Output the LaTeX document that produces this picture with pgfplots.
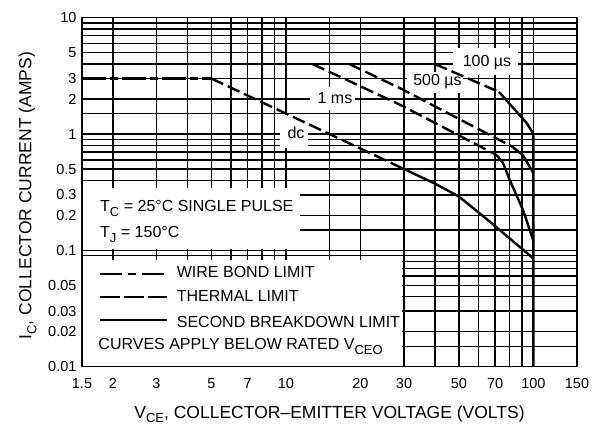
\documentclass[border=0pt]{standalone}
\usepackage{fontspec}
\setmainfont{Liberation Sans}
\usepackage{pgfplots}
\pgfplotsset{compat=1.18}
\pgfdeclarelayer{boxes}
\pgfplotsset{layers/mylayers/.define layer set={axis background,axis grid,boxes,axis ticks,axis lines,axis tick labels,pre main,main,axis descriptions,axis foreground}{}}
\newcommand\sub[1]{\raisebox{-0.28em}{\fontsize{13}{13}\selectfont #1}}
\newcommand\fnt{\fontsize{16}{18}\selectfont}
\tikzset{lbl/.style={font=\fnt, inner sep=0pt}}
\begin{document}
\begin{tikzpicture}
\begin{axis}[
  set layers=mylayers,
  scale only axis, width=495pt, height=349pt,
  at={(0,0)}, anchor=south west,
  xmode=log, ymode=log,
  xmin=1.5, xmax=150, ymin=0.01, ymax=10,
  xtick={1.5,2,3,4,5,6,7,8,9,10,15,20,30,40,50,60,70,80,90,100,150},
  xticklabels={1.5,2,3,,5,,7,,,10,,20,30,,50,,70,,,100,150},
  ytick={0.01,0.015,0.02,0.03,0.04,0.05,0.06,0.07,0.08,0.09,0.1,0.15,0.2,0.3,0.4,0.5,0.6,0.7,0.8,0.9,1,1.5,2,3,4,5,6,7,8,9,10},
  yticklabels={0.01,,0.02,0.03,,0.05,,,,,0.1,,0.2,0.3,,0.5,,,,,1,,2,3,,5,,,,,10},
  grid=major, major grid style={black, line width=1.4pt},
  tick align=inside, major tick length=4.5pt,
  tick style={black, line width=1.4pt},
  minor tick style={draw=none},
  axis line style={black, line width=1.6pt},
  xticklabel style={font=\fontsize{14.5}{16}\selectfont, anchor=base, yshift=-21.5pt},
  yticklabel style={font=\fontsize{14.5}{16}\selectfont, anchor=east, xshift=-2pt},
  xlabel={V\sub{CE}, COLLECTOR–EMITTER VOLTAGE (VOLTS)},
  ylabel={I\sub{C}, COLLECTOR CURRENT (AMPS)},
  xlabel style={font=\fontsize{17.5}{19}\selectfont, at={(rel axis cs:0.5,-0.147)}, anchor=base},
  ylabel style={font=\fontsize{17.5}{19}\selectfont, at={(rel axis cs:-0.11,0.49)}, anchor=center},
]
\fill[white, on layer=boxes] (rel axis cs:0.003,0.337) rectangle (rel axis cs:0.4404,0.512);
\fill[white, on layer=boxes] (rel axis cs:0.003,0.003) rectangle (rel axis cs:0.647,0.3057);
\fill[white, on layer=boxes] (rel axis cs:0.7495,0.8358) rectangle (rel axis cs:0.8808,0.9132);
\fill[white, on layer=boxes] (rel axis cs:0.6566,0.7842) rectangle (rel axis cs:0.7697,0.8444);
\fill[white, on layer=boxes] (rel axis cs:0.4606,0.7355) rectangle (rel axis cs:0.5515,0.8014);
\fill[white, on layer=boxes] (rel axis cs:0.4,0.6266) rectangle (rel axis cs:0.4566,0.7212);
% wire bond limits
\addplot[black, line width=2.4pt, dash pattern=on 24pt off 4pt on 8pt off 4pt] coordinates {(1.5,4) (40,4)};
\addplot[black, line width=2.4pt, dash pattern=on 24pt off 4pt on 8pt off 4pt] coordinates {(1.5,3) (5,3)};
% thermal limits
\addplot[black, line width=2.4pt, dash pattern=on 13pt off 5pt] coordinates {(5,3) (30,0.5)};
\addplot[black, line width=2.4pt, dash pattern=on 13pt off 5pt] coordinates {(12.8,4) (29,1.78) (71,0.66)};
\addplot[black, line width=2.4pt, dash pattern=on 13pt off 5pt] coordinates {(18,4) (29,2.47) (82,0.78)};
\addplot[black, line width=2.4pt, dash pattern=on 13pt off 5pt] coordinates {(40,4) (72.6,2.3)};
% second breakdown limits
\addplot[black, line width=2.4pt] coordinates {(30,0.5) (40,0.375) (50,0.29) (60,0.212) (70,0.162) (80,0.127) (90,0.103) (100,0.085)};
\addplot[black, line width=2.4pt] coordinates {(71,0.66) (75.5,0.56) (80.3,0.40) (91,0.22) (100,0.12)};
\addplot[black, line width=2.4pt] coordinates {(82,0.78) (90.6,0.66) (100,0.46)};
\addplot[black, line width=2.4pt] coordinates {(72.6,2.3) (82,1.72) (94,1.24) (100,1.0) (100,0.01)};
% curve labels
\node[lbl] at (rel axis cs:0.8182,0.8702) {100 µs};
\node[lbl] at (rel axis cs:0.7182,0.8172) {500 µs};
\node[lbl] at (rel axis cs:0.5111,0.7699) {1 ms};
\node[lbl] at (rel axis cs:0.4323,0.6696) {dc};
% conditions
\node[lbl, anchor=base west] at (rel axis cs:0.0364,0.4441) {T\sub{C} = 25°C SINGLE PULSE};
\node[lbl, anchor=base west] at (rel axis cs:0.0364,0.3688) {T\sub{J} = 150°C};
% legend
\draw[line width=2pt, dash pattern=on 22pt off 6pt on 8pt off 6pt] (rel axis cs:0.0364,0.2656) -- (rel axis cs:0.1717,0.2656);
\draw[line width=2pt, dash pattern=on 20pt off 4pt] (rel axis cs:0.0364,0.1989) -- (rel axis cs:0.1717,0.1989);
\draw[line width=2pt] (rel axis cs:0.0364,0.1338) -- (rel axis cs:0.1717,0.1338);
\node[lbl, anchor=base west] at (rel axis cs:0.1913,0.2562) {WIRE BOND LIMIT};
\node[lbl, anchor=base west] at (rel axis cs:0.1913,0.1862) {THERMAL LIMIT};
\node[lbl, anchor=base west] at (rel axis cs:0.1913,0.1129) {SECOND BREAKDOWN LIMIT};
\node[lbl, anchor=base west] at (rel axis cs:0.0329,0.0479) {CURVES APPLY BELOW RATED V\sub{CEO}};
\end{axis}
\path (-82pt,-57.3pt) rectangle (512pt,366.7pt);
\end{tikzpicture}
\end{document}
